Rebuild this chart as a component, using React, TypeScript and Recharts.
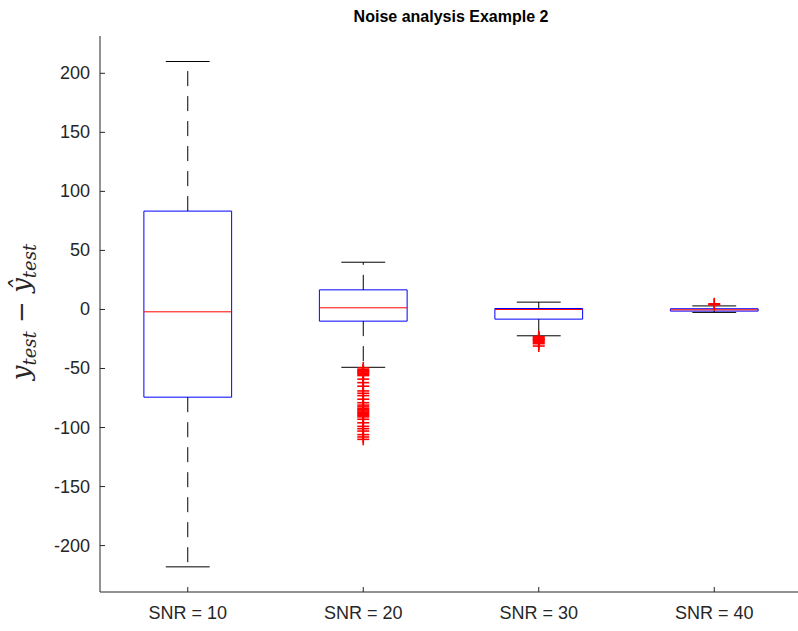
import { ComposedChart, XAxis, YAxis, ReferenceArea, ReferenceLine, Scatter } from "recharts";

const categories = ["SNR = 10", "SNR = 20", "SNR = 30", "SNR = 40"];
const lowerWhisker = [-218, -49, -22.3, -2.5];
const q1 = [-74.3, -9.9, -8.2, -1.4];
const medians = [-2, 1.4, 0, -0.3];
const q3 = [83.3, 16.6, 0.8, 0.6];
const upperWhisker = [210, 40, 6.2, 3];
const outliers20 = [-49.5, -51, -52, -52.5, -53, -54, -55, -56, -59, -62, -65, -69, -71, -73,
  -76, -79, -81, -82.5, -84, -85, -86, -87, -88, -89, -90, -91, -93, -96, -99, -101, -103, -106, -108, -110];
const outliers30 = [-23, -24, -25, -25.5, -26, -27, -28, -29, -31];
const outliers40 = [4, 4.8];
const yTicks = [-200, -150, -100, -50, 0, 50, 100, 150, 200];

const outlierPoints = [
  ...outliers20.map(v => ({ x: 2, y: v })),
  ...outliers30.map(v => ({ x: 3, y: v })),
  ...outliers40.map(v => ({ x: 4, y: v })),
];

const AXIS = "#262626";
const FONT = "'Liberation Sans', Arial, Helvetica, sans-serif";

const Plus = (props: any) => {
  const { cx, cy } = props;
  if (cx == null || cy == null) return null;
  return (
    <g stroke="#ff0000" strokeWidth={1.6}>
      <line x1={cx - 6} y1={cy} x2={cx + 6} y2={cy} />
      <line x1={cx} y1={cy - 6} x2={cx} y2={cy + 6} />
    </g>
  );
};

const LeftTick = (props: any) => {
  const { x, y, payload } = props;
  return (
    <g>
      <line x1={x + 10} y1={y} x2={x + 15} y2={y} stroke={AXIS} />
      <text x={x} y={y} dy={6} textAnchor="end" fontSize={18} fill={AXIS} fontFamily={FONT}>
        {payload.value}
      </text>
    </g>
  );
};

const RightTick = (props: any) => {
  const { x, y } = props;
  return <line x1={x} y1={y} x2={x - 5} y2={y} stroke={AXIS} />;
};

const BottomTick = (props: any) => {
  const { x, y, payload } = props;
  return (
    <g>
      <line x1={x} y1={y - 12} x2={x} y2={y - 17} stroke={AXIS} />
      <text x={x} y={y} dy={15} textAnchor="middle" fontSize={18} fill={AXIS} fontFamily={FONT}>
        {categories[payload.value - 1]}
      </text>
    </g>
  );
};

const TopTick = (props: any) => {
  const { x, y } = props;
  return <line x1={x} y1={y} x2={x} y2={y + 5} stroke={AXIS} />;
};

export default function App() {
  return (
    <div style={{ position: "absolute", left: 0, top: 0, width: 798, height: 631, overflow: "hidden", background: "#fff" }}>
      <div style={{ position: "absolute", left: 0, top: 8, width: 902, textAlign: "center", fontFamily: FONT, fontWeight: "bold", fontSize: 16, color: "#000" }}>
        Noise analysis Example 2
      </div>
      <svg width={50} height={631} style={{ position: "absolute", left: 0, top: 0 }}>
        <text
          transform="translate(30,312) rotate(-90)"
          textAnchor="middle"
          fontFamily="'DejaVu Serif', 'Liberation Serif', serif"
          fontStyle="italic"
          fontSize={26}
          fill={AXIS}
        >
          <tspan>y</tspan>
          <tspan fontSize={18} dy={6}>test</tspan>
          <tspan dy={-6} fontStyle="normal"> − </tspan>
          <tspan>ŷ</tspan>
          <tspan fontSize={18} dy={6}>test</tspan>
        </text>
      </svg>
      <ComposedChart
        width={810}
        height={631}
        data={outlierPoints}
        margin={{ top: 36, right: 8, bottom: 9, left: 40 }}
        style={{ position: "absolute", left: 0, top: 0 }}
      >
        <XAxis
          xAxisId="b"
          type="number"
          dataKey="x"
          domain={[0.5, 4.5]}
          ticks={[1, 2, 3, 4]}
          height={30}
          tickSize={0}
          tickMargin={12}
          tick={<BottomTick />}
          axisLine={{ stroke: AXIS }}
          tickLine={false}
        />
        <XAxis
          xAxisId="t"
          orientation="top"
          type="number"
          dataKey="x"
          domain={[0.5, 4.5]}
          ticks={[1, 2, 3, 4]}
          height={0}
          tickSize={0}
          tickMargin={0}
          tick={<TopTick />}
          axisLine={{ stroke: AXIS }}
          tickLine={false}
        />
        <YAxis
          yAxisId="l"
          type="number"
          domain={[-239.3, 231.6]}
          ticks={yTicks}
          width={60}
          tickSize={0}
          tickMargin={10}
          tick={<LeftTick />}
          axisLine={{ stroke: AXIS }}
          tickLine={false}
          allowDataOverflow
        />
        <YAxis
          yAxisId="r"
          orientation="right"
          type="number"
          domain={[-239.3, 231.6]}
          ticks={yTicks}
          width={0}
          tickSize={0}
          tickMargin={0}
          tick={<RightTick />}
          axisLine={{ stroke: AXIS }}
          tickLine={false}
          allowDataOverflow
        />
        {categories.map((c, i) => {
          const x = i + 1;
          return [
            <ReferenceLine key={`wu${c}`} xAxisId="b" yAxisId="l" segment={[{ x, y: q3[i] }, { x, y: upperWhisker[i] }]} stroke="#000" strokeDasharray="15 10" />,
            <ReferenceLine key={`wl${c}`} xAxisId="b" yAxisId="l" segment={[{ x, y: q1[i] }, { x, y: lowerWhisker[i] }]} stroke="#000" strokeDasharray="15 10" />,
            <ReferenceLine key={`cu${c}`} xAxisId="b" yAxisId="l" segment={[{ x: x - 0.125, y: upperWhisker[i] }, { x: x + 0.125, y: upperWhisker[i] }]} stroke="#000" />,
            <ReferenceLine key={`cl${c}`} xAxisId="b" yAxisId="l" segment={[{ x: x - 0.125, y: lowerWhisker[i] }, { x: x + 0.125, y: lowerWhisker[i] }]} stroke="#000" />,
            <ReferenceArea key={`b${c}`} xAxisId="b" yAxisId="l" x1={x - 0.25} x2={x + 0.25} y1={q1[i]} y2={q3[i]} stroke="#0000ff" strokeOpacity={1} fill="none" fillOpacity={0} />,
            <ReferenceLine key={`m${c}`} xAxisId="b" yAxisId="l" segment={[{ x: x - 0.25, y: medians[i] }, { x: x + 0.25, y: medians[i] }]} stroke="#ff0000" />,
          ];
        })}
        <Scatter xAxisId="b" yAxisId="l" data={outlierPoints} dataKey="y" shape={<Plus />} isAnimationActive={false} />
      </ComposedChart>
    </div>
  );
}
